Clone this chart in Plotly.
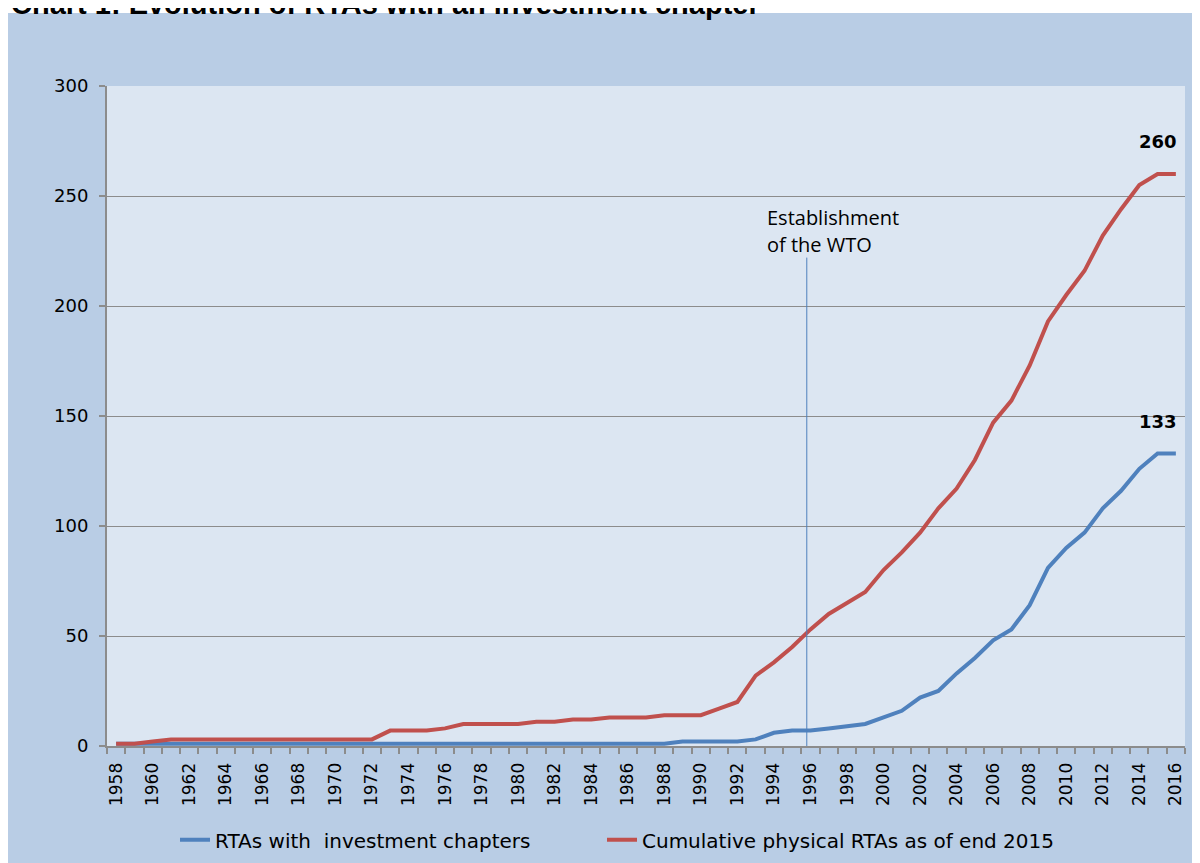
import plotly.graph_objects as go

years = list(range(1958, 2017))

rtas_investment = [1] * 31 + [2, 2, 2, 2, 3, 6, 7, 7, 8, 9, 10, 13, 16, 22, 25, 33, 40,
                              48, 53, 64, 81, 90, 97, 108, 116, 126, 133, 133]

cumulative_rtas = [1, 1, 2, 3, 3, 3, 3, 3, 3, 3, 3, 3, 3, 3, 3,
                   7, 7, 7, 8, 10, 10, 10, 10, 11, 11, 12, 12, 13, 13, 13, 14, 14, 14,
                   17, 20, 32, 38, 45, 53, 60, 65, 70, 80, 88, 97, 108, 117, 130, 147,
                   157, 173, 193, 205, 216, 232, 244, 255, 260, 260]

tick_years = list(range(1958, 2017, 2))
tick_labels = [str(y) for y in tick_years]

series_names = ["RTAs with\u00a0 investment chapters", "Cumulative physical RTAs as of end 2015"]
wto_text = ["Establishment", "of the WTO"]
label_year = 2015
wto_year = 1995.8
wto_line_top = 222

BLUE = "#4F81BD"
RED = "#C0504D"
GRID = "#8C8C8C"
OUTER = "#B9CDE5"
INNER = "#DCE6F2"
FONT = "DejaVu Sans"

fig = go.Figure()
fig.add_trace(go.Scatter(x=years, y=rtas_investment, mode="lines", name=series_names[0],
                         line=dict(color=BLUE, width=4), legend="legend"))
fig.add_trace(go.Scatter(x=years, y=cumulative_rtas, mode="lines", name=series_names[1],
                         line=dict(color=RED, width=4), legend="legend2"))

# target plot area on the page: x 107..1185, y 86..747
PL, PR, PT, PB = 107, 1185, 86, 747
pw, ph = PR - PL, PB - PT


def px(xp):
    return (xp - PL) / pw


def py(yp):
    return (PB - yp) / ph


shapes = [
    dict(type="rect", xref="paper", yref="paper", x0=px(8), x1=px(1210), y0=py(13), y1=py(880),
         fillcolor=OUTER, line=dict(width=0), layer="below"),
    dict(type="rect", xref="paper", yref="paper", x0=0, x1=1, y0=0, y1=1,
         fillcolor=INNER, line=dict(width=0), layer="below"),
    dict(type="line", xref="x", yref="y", x0=wto_year, x1=wto_year, y0=0, y1=wto_line_top,
         line=dict(color=BLUE, width=1)),
]

annotations = [
    dict(text="<b>Chart 1: Evolution of RTAs with an investment chapter</b>", xref="paper", yref="paper",
         x=px(9), y=py(22), xanchor="left", yanchor="bottom", showarrow=False,
         font=dict(family="Liberation Sans", size=29, color="#000000")),
    dict(text=wto_text[0], xref="x", yref="y", x=1993.5, y=247.5,
         xanchor="left", yanchor="top", align="left", showarrow=False,
         font=dict(family="Open Sans", size=20, color="#000000")),
    dict(text=wto_text[1], xref="x", yref="y", x=1993.5, y=235,
         xanchor="left", yanchor="top", align="left", showarrow=False,
         font=dict(family="Open Sans", size=20, color="#000000")),
    dict(text="<b>%d</b>" % cumulative_rtas[years.index(label_year)], xref="x", yref="y",
         x=label_year, y=cumulative_rtas[years.index(label_year)], yshift=33, showarrow=False,
         font=dict(family=FONT, size=18, color="#000000")),
    dict(text="<b>%d</b>" % rtas_investment[years.index(label_year)], xref="x", yref="y",
         x=label_year, y=rtas_investment[years.index(label_year)], yshift=32, showarrow=False,
         font=dict(family=FONT, size=18, color="#000000")),
]

legend_font = dict(family=FONT, size=20, color="#000000")

fig.update_layout(
    width=1200, height=863,
    margin=dict(l=99, r=23, t=78, b=116),
    paper_bgcolor="#FFFFFF",
    plot_bgcolor="rgba(0,0,0,0)",
    shapes=shapes,
    annotations=annotations,
    showlegend=True,
    legend=dict(orientation="h", x=px(175), y=py(841), xanchor="left", yanchor="middle",
                bgcolor="rgba(0,0,0,0)", font=legend_font),
    legend2=dict(orientation="h", x=px(602), y=py(841), xanchor="left", yanchor="middle",
                 bgcolor="rgba(0,0,0,0)", font=legend_font),
    xaxis=dict(range=[1957.5, 2016.5], tickmode="array", tickvals=tick_years, ticktext=tick_labels,
               tickangle=-90, ticks="", showgrid=False, zeroline=False,
               showline=True, linecolor=GRID, linewidth=2,
               tickfont=dict(family=FONT, size=17, color="#000000"), ticklabelstandoff=8,
               minor=dict(tickmode="linear", tick0=1957.5, dtick=1, ticks="outside", ticklen=6,
                          tickcolor=GRID, tickwidth=2, showgrid=False)),
    yaxis=dict(range=[0, 300], dtick=50, tick0=0, showgrid=True, gridcolor=GRID, gridwidth=1,
               zeroline=False, showline=True, linecolor=GRID, linewidth=2,
               ticks="outside", ticklen=6, tickcolor=GRID, tickwidth=2,
               tickfont=dict(family=FONT, size=18, color="#000000"), ticklabelstandoff=7),
)

fig.write_html("out.html")
